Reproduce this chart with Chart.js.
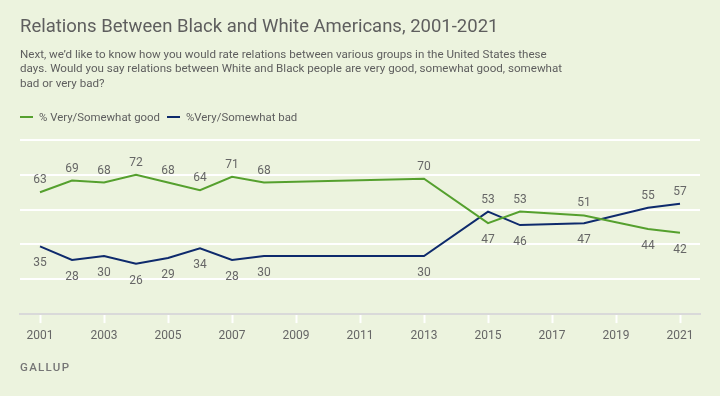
<!DOCTYPE html>
<html>
<head>
<meta charset="utf-8">
<script src="https://cdn.jsdelivr.net/npm/chart.js@4"></script>
<style>
    html, body { margin: 0; padding: 0; }
    body { width: 720px; height: 396px; background: #ecf3de; position: relative; overflow: hidden; }
    #chartBox { position: absolute; left: 0; top: 0; width: 720px; height: 396px; }
    .txt { font-family: Roboto, "Liberation Sans", sans-serif; color: #5e5e5e; position: absolute; left: 20px; }
    #title { top: 15px; font-size: 18.5px; white-space: nowrap; }
    #subtitle { top: 47px; font-size: 11.6px; line-height: 14.4px; white-space: nowrap; }
    #legend { top: 110px; font-size: 11.4px; white-space: nowrap; }
    #legend span.key { display: inline-block; width: 13px; height: 2.5px; vertical-align: middle; margin-right: 6px; position: relative; top: -1px; }
    #legend span.item { margin-right: 7px; }
    #source { position: absolute; left: 20px; top: 360px; font-family: Roboto, "Liberation Sans", sans-serif; font-size: 11.5px; font-weight: 500; letter-spacing: 1.3px; color: #767676; }
</style>
</head>
<body>
<div id="chartBox"><canvas id="relationsChart" width="720" height="396"></canvas></div>
<div id="title" class="txt">Relations Between Black and White Americans, 2001-2021</div>
<div id="subtitle" class="txt">Next, we’d like to know how you would rate relations between various groups in the United States these<br>days. Would you say relations between White and Black people are very good, somewhat good, somewhat<br>bad or very bad?</div>
<div id="legend" class="txt"></div>
<div id="source">GALLUP</div>
<script>
const years = [2001, 2002, 2003, 2004, 2005, 2006, 2007, 2008, 2013, 2015, 2016, 2018, 2020, 2021];
const goodValues = [63, 69, 68, 72, 68, 64, 71, 68, 70, 47, 53, 51, 44, 42];
const badValues = [35, 28, 30, 26, 29, 34, 28, 30, 30, 53, 46, 47, 55, 57];
const tickYears = [2001, 2003, 2005, 2007, 2009, 2011, 2013, 2015, 2017, 2019, 2021];
const seriesNames = ['% Very/Somewhat good', '%Very/Somewhat bad'];
const seriesColors = ['#55a02e', '#0e2a6c'];

// legend, built from the series names
const legendDiv = document.getElementById('legend');
seriesNames.forEach(function (name, i) {
    const item = document.createElement('span');
    item.className = 'item';
    const key = document.createElement('span');
    key.className = 'key';
    key.style.background = seriesColors[i];
    item.appendChild(key);
    item.appendChild(document.createTextNode(name));
    legendDiv.appendChild(item);
});

function toPoints(values) {
    return values.map((v, i) => ({ x: years[i], y: v }));
}

// number labels: higher series above the line, lower one below
const valueLabels = {
    id: 'valueLabels',
    afterDatasetsDraw(chart) {
        const ctx = chart.ctx;
        ctx.save();
        ctx.font = '12px Roboto, "Liberation Sans", sans-serif';
        ctx.fillStyle = '#666666';
        ctx.textAlign = 'center';
        ctx.textBaseline = 'middle';
        chart.data.datasets.forEach(function (ds, d) {
            const other = chart.data.datasets[1 - d];
            chart.getDatasetMeta(d).data.forEach(function (pt, i) {
                const v = ds.data[i].y;
                const above = v > other.data[i].y;
                ctx.fillText(String(v), pt.x, above ? pt.y - 12 : pt.y + 17);
            });
        });
        ctx.restore();
    }
};

new Chart(document.getElementById('relationsChart'), {
    type: 'line',
    data: {
        datasets: [
            { label: seriesNames[0], data: toPoints(goodValues), borderColor: seriesColors[0], borderWidth: 2, pointRadius: 0, tension: 0 },
            { label: seriesNames[1], data: toPoints(badValues), borderColor: seriesColors[1], borderWidth: 2, pointRadius: 0, tension: 0 }
        ]
    },
    options: {
        responsive: false,
        animation: false,
        layout: { padding: { left: 20, right: 20, top: 140, bottom: 46.5 } },
        plugins: { legend: { display: false }, tooltip: { enabled: false } },
        scales: {
            x: {
                type: 'linear',
                min: 2000.375,
                max: 2021.625,
                afterBuildTicks: function (axis) {
                    axis.ticks = tickYears.map(y => ({ value: y }));
                },
                grid: { drawOnChartArea: false, drawTicks: true, tickLength: 9, tickColor: '#ffffff', tickWidth: 2 },
                border: { color: '#d9d9d9', width: 2 },
                ticks: {
                    padding: 6,
                    color: '#666666',
                    font: { family: 'Roboto, "Liberation Sans", sans-serif', size: 12 },
                    callback: v => String(v),
                    maxRotation: 0
                }
            },
            y: {
                min: 0,
                max: 90,
                ticks: { display: false, stepSize: 18 },
                grid: { color: '#ffffff', lineWidth: 2, drawTicks: false },
                border: { display: false }
            }
        }
    },
    plugins: [valueLabels]
});
</script>
</body>
</html>
